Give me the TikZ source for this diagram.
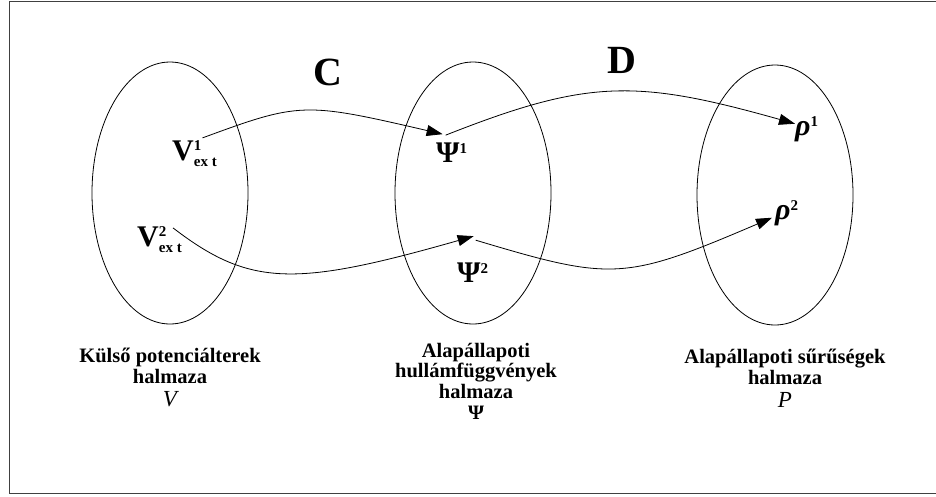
\documentclass[tikz,border=0pt]{standalone}
\usepackage{fontspec}
\setmainfont{Liberation Serif}
\usetikzlibrary{arrows.meta}

\newcommand{\supsub}[2]{\rlap{\raisebox{10pt}{\fontsize{15}{15}\selectfont #1}}\raisebox{-6pt}{\fontsize{15}{15}\selectfont #2}}
\newcommand{\supr}[1]{\raisebox{9pt}{\fontsize{15}{15}\selectfont #1}}

\tikzset{
  sym/.style={inner sep=0pt, anchor=base west, font=\fontsize{30}{30}\selectfont\bfseries},
  map/.style={inner sep=0pt, font=\fontsize{40}{40}\selectfont\bfseries},
  setlabel/.style={inner sep=0pt, anchor=north, align=center, font=\fontsize{20.5}{20.5}\selectfont\bfseries},
  conn/.style={line width=0.8pt, -{Triangle[length=16pt,width=11pt]}},
}

\begin{document}
\begin{tikzpicture}[x=1pt, y=-1pt]

    \useasboundingbox (0,0) rectangle (936,496);
    \draw [black!75, line width=1pt] (936,1) -- (9.5,1) -- (9.5,493) -- (936,493);

    % the three sets
    \draw [line width=0.8pt] (170,193) ellipse [x radius=78, y radius=131];
    \draw [line width=0.8pt] (473,193) ellipse [x radius=78, y radius=131];
    \draw [line width=0.8pt] (775,195) ellipse [x radius=78, y radius=130];

    \node (C) [map] at (328,72) {C};
    \node (D) [map] at (622,60) {D};

    \node (V1) [sym] at (172,160) {V\supsub{1}{ex t}};
    \node (V2) [sym] at (137,246) {V\supsub{2}{ex t}};
    \node (Psi1) [sym] at (436,162) {Ψ\supr{1}};
    \node (Psi2) [sym] at (457,282) {Ψ\supr{2}};
    \node (rho1) [sym] at (795,135) {\itshape ρ\supr{\upshape 1}};
    \node (rho2) [sym] at (775,219) {\itshape ρ\supr{\upshape 2}};

    \draw [conn] ([xshift=8pt,yshift=2pt]V1.north) .. controls (300,102) and (304,102) .. ([xshift=-9pt,yshift=8pt]Psi1.north);
    \draw [conn] ([xshift=-9pt,yshift=-2pt]V2.north east) .. controls (250,287) and (295,287) .. ([xshift=1pt,yshift=26pt]Psi2.north);
    \draw [conn] ([xshift=-6pt,yshift=7pt]Psi1.north) .. controls (588,79) and (636,79) .. ([yshift=5pt]rho1.west);
    \draw [conn] ([xshift=3pt,yshift=22pt]Psi2.north) .. controls (612,281) and (624,281) .. ([xshift=-3pt,yshift=-5pt]rho2.west);

    \node (Vset) [setlabel] at (170,348) {Külső potenciálterek\\halmaza\\[3pt]{\mdseries\itshape\fontsize{23}{20.5}\selectfont V}};
    \node (Psiset) [setlabel] at (476,343) {Alapállapoti\\hullámfüggvények\\halmaza\\[1pt]Ψ};
    \node (Pset) [setlabel] at (785,349) {Alapállapoti sűrűségek\\halmaza\\[3pt]{\mdseries\itshape\fontsize{23}{20.5}\selectfont P}};

\end{tikzpicture}
\end{document}
